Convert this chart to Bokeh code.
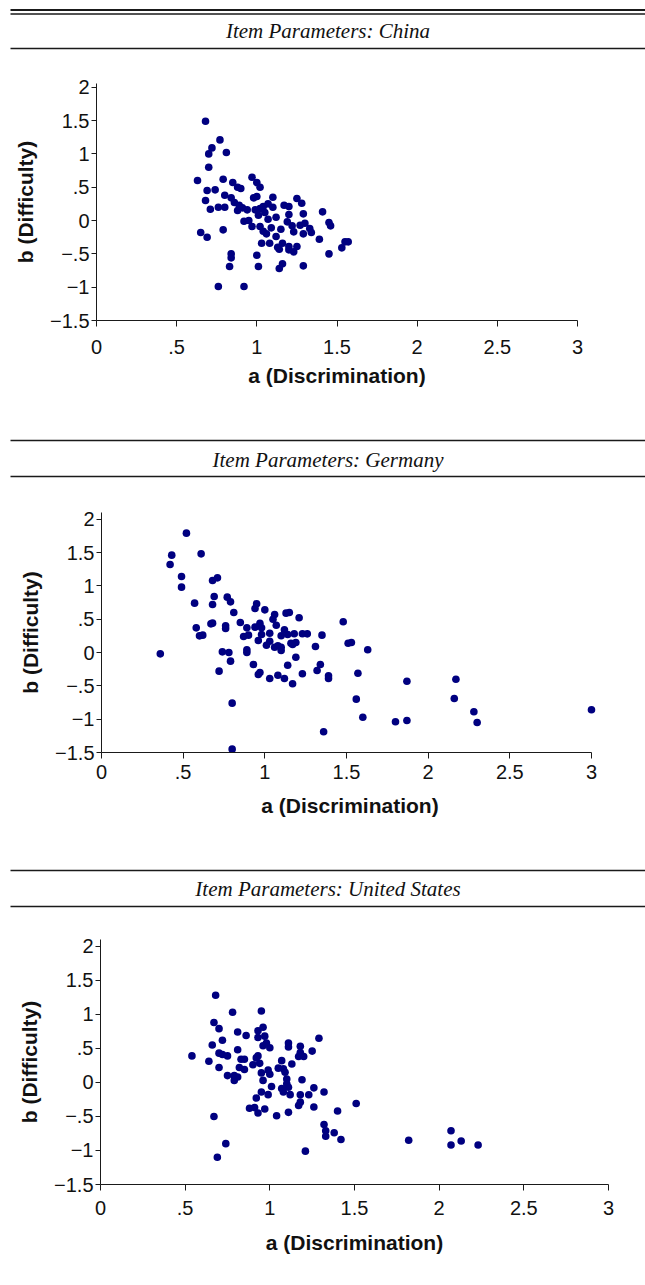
from bokeh.plotting import figure
from bokeh.models import Range1d, FixedTicker, CustomJSTickFormatter
from bokeh.core.properties import value
from bokeh.embed import file_html
from bokeh.resources import INLINE

# ---------------- data ----------------
titles = ["Item Parameters: China", "Item Parameters: Germany", "Item Parameters: United States"]
x_title = "a (Discrimination)"
y_title = "b (Difficulty)"
x_ticks = [0, 0.5, 1, 1.5, 2, 2.5, 3]
y_ticks = [-1.5, -1, -0.5, 0, 0.5, 1, 1.5, 2]

china_a = [0.68, 0.77, 0.72, 0.70, 0.81, 0.70, 0.63, 0.79, 0.97, 0.85,
           0.88, 0.90, 1.00, 1.02, 0.69, 0.74, 0.80, 0.68, 0.84, 0.98,
           1.00, 1.10, 1.25, 1.28, 0.71, 0.76, 0.80, 0.86, 0.89, 0.88,
           0.91, 0.94, 0.99, 1.02, 1.04, 1.07, 1.10, 1.17, 1.20, 1.01,
           1.05, 1.07, 1.12, 1.20, 1.29, 1.41, 0.92, 0.95, 0.97, 1.02,
           1.04, 1.06, 1.09, 1.15, 1.19, 1.22, 1.23, 1.27, 1.30, 1.29,
           1.33, 1.34, 1.45, 1.46, 1.39, 0.65, 0.69, 0.79, 1.03, 1.08,
           1.12, 1.13, 1.14, 1.16, 1.20, 1.20, 1.23, 1.25, 1.53, 1.55,
           1.57, 1.45, 0.84, 0.84, 0.83, 1.00, 1.01, 1.16, 1.14, 1.29,
           0.76, 0.92]
china_b = [1.49, 1.21, 1.09, 1.00, 1.02, 0.80, 0.60, 0.62, 0.65, 0.57,
           0.50, 0.48, 0.57, 0.50, 0.45, 0.46, 0.38, 0.30, 0.34, 0.34,
           0.36, 0.35, 0.33, 0.26, 0.17, 0.20, 0.20, 0.27, 0.23, 0.15,
           0.19, 0.16, 0.16, 0.18, 0.21, 0.25, 0.20, 0.23, 0.21, 0.08,
           0.12, 0.02, 0.05, 0.09, 0.10, 0.13, -0.01, 0.00, -0.09, -0.09,
           -0.16, -0.20, -0.11, -0.13, -0.02, -0.08, -0.17, -0.07, -0.04, -0.20,
           -0.12, -0.18, -0.03, -0.08, -0.28, -0.18, -0.25, -0.14, -0.34, -0.34,
           -0.24, -0.40, -0.43, -0.34, -0.39, -0.44, -0.47, -0.39, -0.41, -0.32,
           -0.32, -0.50, -0.50, -0.56, -0.69, -0.52, -0.69, -0.65, -0.72, -0.68,
           -0.99, -0.99]

germany_a = [0.52, 0.43, 0.42, 0.61, 0.49, 0.49, 0.68, 0.71, 0.69, 0.68,
             0.57, 0.77, 0.79, 0.81, 0.58, 0.60, 0.62, 0.67, 0.68, 0.76,
             0.76, 0.85, 0.89, 0.87, 0.90, 0.94, 0.95, 1.00, 1.06, 1.05,
             1.07, 0.94, 0.97, 0.98, 0.98, 0.96, 1.01, 1.03, 1.03, 1.06,
             1.08, 1.10, 1.12, 1.14, 1.13, 1.15, 1.18, 1.16, 1.19, 1.17,
             1.21, 1.23, 1.26, 1.31, 1.35, 1.10, 1.10, 0.89, 0.89, 0.74,
             0.78, 0.79, 0.72, 0.36, 0.93, 0.96, 0.97, 1.03, 1.08, 1.12,
             1.14, 1.17, 1.19, 1.23, 1.32, 1.34, 1.39, 1.39, 1.48, 1.51,
             1.53, 1.63, 1.57, 1.56, 1.60, 1.36, 0.80, 0.80,
             1.87, 1.80, 1.87, 2.17, 2.16, 2.28, 2.30, 3.00]
germany_b = [1.79, 1.46, 1.32, 1.48, 1.14, 0.98, 1.08, 1.12, 0.84, 0.72,
             0.74, 0.83, 0.76, 0.60, 0.37, 0.25, 0.26, 0.43, 0.44, 0.40,
             0.36, 0.45, 0.37, 0.24, 0.26, 0.66, 0.73, 0.64, 0.57, 0.50,
             0.41, 0.38, 0.44, 0.37, 0.27, 0.18, 0.11, 0.29, 0.17, 0.08,
             0.10, 0.25, 0.34, 0.27, 0.59, 0.60, 0.28, 0.14, 0.15, 0.12,
             0.52, 0.28, 0.28, 0.09, 0.26, 0.08, 0.03, 0.04, 0.00, 0.01,
             0.00, -0.13, -0.28, -0.02, -0.18, -0.33, -0.30, -0.39, -0.34, -0.39,
             -0.19, -0.47, -0.07, -0.32, -0.27, -0.18, -0.35, -0.39, 0.46, 0.14,
             0.15, 0.04, -0.31, -0.70, -0.97, -1.19, -0.76, -1.45,
             -0.43, -1.04, -1.02, -0.40, -0.69, -0.89, -1.05, -0.86]

us_a = [0.68, 0.78, 0.95, 0.67, 0.70, 0.81, 0.86, 0.93, 0.96, 0.93,
        0.97, 0.72, 0.66, 0.70, 0.72, 0.75, 0.81, 0.54, 0.64, 0.70,
        0.75, 0.79, 0.79, 0.81, 0.82, 0.83, 0.85, 0.85, 0.90, 0.92,
        0.93, 0.94, 0.96, 0.98, 1.00, 0.99, 1.00, 0.96, 0.95, 0.95,
        0.92, 0.99, 1.01, 1.07, 1.05, 1.08, 1.09, 1.10, 1.10, 1.11,
        1.07, 1.08, 1.12, 1.11, 1.11, 1.13, 1.18, 1.18, 1.17, 1.20,
        1.25, 1.29, 1.19, 1.26, 1.32, 1.23, 1.18, 1.18, 1.17, 1.26,
        0.88, 0.91, 0.93, 0.97, 1.04, 1.11, 1.40, 1.51, 1.32, 1.33,
        1.33, 1.38, 1.42, 0.67, 0.74, 0.69, 1.21,
        1.82, 2.07, 2.07, 2.13, 2.23]
us_b = [1.28, 1.03, 1.05, 0.88, 0.79, 0.74, 0.69, 0.76, 0.81, 0.66,
        0.68, 0.62, 0.55, 0.43, 0.41, 0.39, 0.48, 0.39, 0.31, 0.22,
        0.10, 0.03, 0.10, 0.08, 0.22, 0.34, 0.34, 0.19, 0.26, 0.36,
        0.39, 0.28, 0.54, 0.58, 0.51, 0.18, 0.12, 0.03, 0.14, -0.14,
        -0.23, -0.18, -0.06, 0.32, 0.21, 0.20, 0.15, 0.05, -0.02, -0.07,
        -0.09, -0.14, -0.18, 0.58, 0.52, 0.27, 0.53, 0.44, 0.38, 0.38,
        0.46, 0.65, 0.04, -0.08, -0.14, -0.18, -0.18, -0.29, -0.34, -0.36,
        -0.38, -0.37, -0.45, -0.39, -0.49, -0.44, -0.42, -0.31, -0.62, -0.71,
        -0.79, -0.74, -0.84, -0.50, -0.90, -1.10, -1.01,
        -0.85, -0.71, -0.92, -0.86, -0.92]

# ---------------- styling ----------------
W = 645
DOT = "#000080"
INK = "#1a1a1a"

fmt_code = """
const a = Math.abs(tick);
let s = String(Math.round(a * 10) / 10);
if (s.startsWith("0.")) s = s.slice(1);
return (tick < -1e-9 ? "\u2212" : "") + s;
"""


def header(text, h, lines, ty):
    p = figure(width=W, height=h, x_range=Range1d(0, W), y_range=Range1d(h, 0),
               toolbar_location=None, output_backend="svg",
               x_axis_location=None, y_axis_location=None, min_border=0)
    p.xgrid.visible = False
    p.ygrid.visible = False
    p.outline_line_color = None
    for (yy, lw) in lines:
        p.segment(x0=[10], x1=[W], y0=[yy], y1=[yy], line_color=INK, line_width=lw)
    p.text(x=[(10 + W) / 2], y=[ty], text=[text], text_align="center", text_baseline="middle",
           text_font=value("Liberation Serif"), text_font_style="italic",
           text_font_size="21px", text_color="#111111")
    return p


def panel(a, b, h, left, top, fw, fh, xmax, ymax, lab_off, title_off):
    p = figure(width=W, height=h, x_range=Range1d(0, xmax), y_range=Range1d(-1.5, ymax),
               toolbar_location=None, output_backend="svg",
               min_border_left=left, min_border_top=top,
               min_border_right=W - left - fw, min_border_bottom=h - top - fh)
    p.xgrid.visible = False
    p.ygrid.visible = False
    p.outline_line_color = None
    p.scatter(a, b, size=7.6, fill_color=DOT, line_color=None)
    p.xaxis.ticker = FixedTicker(ticks=x_ticks)
    p.yaxis.ticker = FixedTicker(ticks=y_ticks)
    p.xaxis.bounds = (0, 3)
    p.xaxis.axis_label = x_title
    p.yaxis.axis_label = y_title
    for ax in (p.xaxis[0], p.yaxis[0]):
        ax.formatter = CustomJSTickFormatter(code=fmt_code)
        ax.major_tick_in = 0
        ax.minor_tick_in = 0
        ax.minor_tick_out = 0
        ax.axis_line_color = INK
        ax.major_tick_line_color = INK
        ax.major_label_text_font = "Liberation Sans"
        ax.major_label_text_font_size = "20px"
        ax.major_label_text_color = "#111111"
        ax.axis_label_text_font = "Liberation Sans"
        ax.axis_label_text_font_style = "bold"
        ax.axis_label_text_font_size = "21px"
        ax.axis_label_text_color = "#111111"
    p.xaxis.major_tick_out = 6
    p.yaxis.major_tick_out = 5
    p.xaxis.major_label_standoff = lab_off
    p.xaxis.axis_label_standoff = title_off
    p.yaxis.major_label_standoff = 2
    p.yaxis.axis_label_standoff = 10
    return p


h1 = header(titles[0], 56, [(9.5, 2.0), (13.5, 1.3), (48, 1.5)], 30.5)
p1 = panel(china_a, china_b, 380, 96, 27, 481, 237, 3.0, 2.056, 13, 7)
h2 = header(titles[1], 48, [(4, 1.5), (40, 1.5)], 23.5)
p2 = panel(germany_a, germany_b, 382, 101, 28, 497, 240, 3.043, 2.1, 6, 12)
h3 = header(titles[2], 48, [(4, 1.5), (40, 1.5)], 22)
p3 = panel(us_a, us_b, 371, 100, 25, 508, 245, 3.0, 2.1, 10, 13)

roots = [h1, p1, h2, p2, h3, p3]
open("out.html", "w").write(file_html(roots, INLINE))
